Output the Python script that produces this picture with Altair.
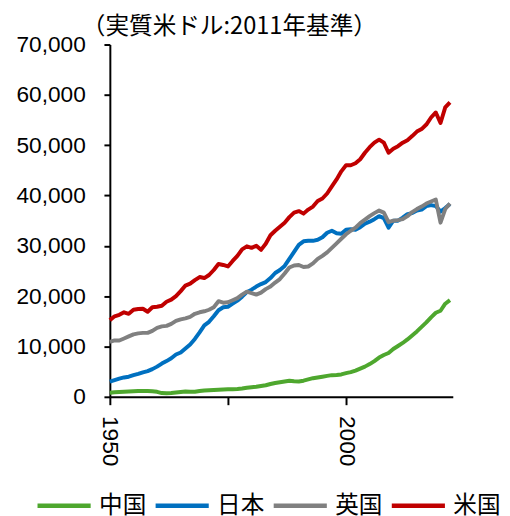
import altair as alt
import pandas as pd

years = list(range(1950, 2023))

china = [800, 900, 950, 1000, 1050, 1100, 1150, 1150, 1150, 1100,
         1000, 750, 700, 750, 850, 950, 1050, 1000, 1000, 1150,
         1250, 1300, 1350, 1400, 1450, 1500, 1500, 1550, 1650, 1800,
         1900, 2000, 2150, 2300, 2550, 2750, 2900, 3050, 3200, 3100,
         3050, 3200, 3450, 3700, 3850, 4000, 4150, 4300, 4350, 4450,
         4700, 4900, 5200, 5600, 6000, 6500, 7100, 7800, 8300, 8700,
         9500, 10100, 10700, 11400, 12200, 13000, 13900, 14800, 15800, 16700,
         17100, 18500, 19200]

japan = [3000, 3300, 3600, 3850, 4000, 4300, 4550, 4850, 5100, 5500,
         6000, 6600, 7100, 7650, 8400, 8800, 9600, 10400, 11500, 12800,
         14200, 14900, 16000, 17200, 17800, 17900, 18500, 19100, 19900, 20800,
         21300, 21900, 22400, 22800, 23600, 24600, 25200, 26000, 27400, 28800,
         30200, 30900, 31000, 31000, 31200, 31700, 32600, 33000, 32500, 32400,
         33200, 33300, 33200, 33700, 34400, 34800, 35300, 35900, 35500, 33600,
         35000, 35000, 35600, 36300, 36500, 37000, 37200, 37900, 38100, 37900,
         36800, 37500, 38300]

uk = [10900, 11200, 11200, 11600, 12000, 12400, 12600, 12700, 12700, 13100,
      13700, 14000, 14100, 14500, 15100, 15400, 15600, 15900, 16500, 16800,
      17000, 17300, 17800, 19000, 18700, 18800, 19200, 19600, 20300, 20900,
      20600, 20300, 20700, 21400, 21900, 22700, 23400, 24500, 25700, 26100,
      26200, 25800, 25900, 26500, 27400, 28000, 28700, 29600, 30500, 31400,
      32300, 33000, 33600, 34500, 35200, 35900, 36500, 37000, 36600, 34700,
      35000, 35100, 35300, 35900, 36700, 37300, 37800, 38400, 38800, 39200,
      34600, 37300, 38400]

us = [15240, 16000, 16300, 16800, 16500, 17300, 17450, 17500, 16900, 17800,
      17900, 18100, 18900, 19300, 20000, 21000, 22100, 22500, 23200, 23800,
      23600, 24200, 25200, 26400, 26200, 25900, 27000, 28000, 29300, 29900,
      29600, 30000, 29200, 30400, 32100, 33000, 33800, 34600, 35700, 36600,
      36900, 36400, 37200, 37800, 38900, 39400, 40400, 41800, 43200, 44800,
      46000, 46000, 46400, 47200, 48500, 49600, 50500, 51100, 50500, 48500,
      49300, 49800, 50500, 51000, 51800, 52700, 53200, 54100, 55500, 56500,
      54400, 57500, 58500]

series_names = ["中国", "日本", "英国", "米国"]
series_colors = ["#4EA72E", "#0070C0", "#808080", "#C00000"]
x_ticks = [1950, 1975, 2000]
y_ticks = [0, 10000, 20000, 30000, 40000, 50000, 60000, 70000]
unit_label = "（実質米ドル:2011年基準）"

rows = []
for name, vals in zip(series_names, [china, japan, uk, us]):
    for yr, v in zip(years, vals):
        rows.append({"year": yr, "value": v, "country": name})
df = pd.DataFrame(rows)

lines = alt.Chart(df).mark_line(strokeWidth=4, strokeJoin="round").encode(
    x=alt.X("year:Q",
            scale=alt.Scale(domain=[1950, 2022.6], nice=False, zero=False),
            axis=alt.Axis(values=x_ticks, format="d",
                          labelExpr="datum.value == 1975 ? '' : datum.label",
                          labelAngle=90, labelAlign="left", labelBaseline="middle",
                          labelFont="Liberation Sans", labelFontSize=23,
                          labelColor="black", labelPadding=11, tickSize=8,
                          title=None, grid=False)),
    y=alt.Y("value:Q",
            scale=alt.Scale(domain=[0, 70000], nice=False),
            axis=alt.Axis(values=y_ticks, format=",d",
                          labelFont="Liberation Sans", labelFontSize=23,
                          labelColor="black", labelPadding=19, tickSize=6,
                          title=None, grid=False)),
    color=alt.Color("country:N",
                    scale=alt.Scale(domain=series_names, range=series_colors),
                    sort=series_names,
                    legend=alt.Legend(orient="none", legendX=-76, legendY=439,
                                      direction="horizontal", columns=4,
                                      symbolType="stroke", symbolSize=2916,
                                      symbolStrokeWidth=4.5, labelFont="Noto Sans CJK JP",
                                      labelFontSize=24, labelColor="black",
                                      labelOffset=6, columnPadding=0, padding=0,
                                      title=None)),
)

title_df = pd.DataFrame({"t": [unit_label]})
title_text = alt.Chart(title_df).mark_text(
    align="left", baseline="middle", font="Noto Sans CJK JP", fontSize=24, color="black"
).encode(x=alt.value(-28.5), y=alt.value(-18), text="t:N")

chart = alt.layer(lines, title_text).properties(
    width=348.5, height=358,
    autosize=alt.AutoSizeParams(type="none"),
    padding={"left": 103.5, "top": 33, "right": 50, "bottom": 117},
).configure_view(stroke=None).configure_axis(
    domainColor="black", tickColor="black", domainWidth=2, tickWidth=2
)

chart.save("out.html", embed_options={"renderer": "svg", "actions": False})
